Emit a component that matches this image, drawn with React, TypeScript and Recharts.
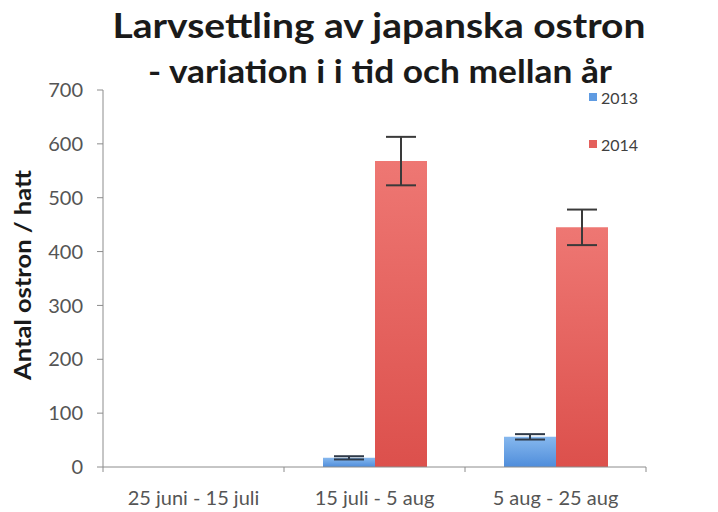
import React from 'react';
import { BarChart, Bar, XAxis, YAxis, ErrorBar } from 'recharts';

const periods = ['25 juni - 15 juli', '15 juli - 5 aug', '5 aug - 25 aug'];
const values2013 = [0, 17, 56];
const errors2013 = [null, 3, 5];
const values2014 = [0, 568, 445];
const errors2014 = [null, 45, 33];
const yTicks = [0, 100, 200, 300, 400, 500, 600, 700];
const legendItems = [
    { name: '2013', color: '#5f9be2' },
    { name: '2014', color: '#e4605c' },
];

const data = periods.map((p, i) => ({
    period: p,
    y2013: values2013[i],
    e2013: errors2013[i],
    y2014: values2014[i],
    e2014: errors2014[i],
}));

const FONT = 'Lato, "Open Sans", sans-serif';
const AXIS = '#8c8c8c';
const TICK_TEXT = '#555555';
const PLOT_BOTTOM = 467;
const HALF_BAND = 90.5;

const XTick = (props: any) => {
    const { x, payload, index } = props;
    return (
        <g>
            <line x1={x - HALF_BAND} x2={x - HALF_BAND} y1={PLOT_BOTTOM} y2={PLOT_BOTTOM + 5} stroke={AXIS} />
            {index === periods.length - 1 && (
                <line x1={x + HALF_BAND} x2={x + HALF_BAND} y1={PLOT_BOTTOM} y2={PLOT_BOTTOM + 5} stroke={AXIS} />
            )}
            <text x={x} y={PLOT_BOTTOM + 38} textAnchor="middle" fontSize={20} fill={TICK_TEXT} fontFamily={FONT}>
                {payload.value}
            </text>
        </g>
    );
};

const YLabel = () => (
    <text
        x={0}
        y={0}
        transform="translate(31 275) rotate(-90)"
        textAnchor="middle"
        fontSize={23}
        fontWeight={700}
        fill="#1a1a1a"
        fontFamily={FONT}
        textLength={210}
        lengthAdjust="spacingAndGlyphs"
    >
        Antal ostron / hatt
    </text>
);

export default function App() {
    return (
        <div style={{ position: 'absolute', left: 0, top: 0, width: 718, height: 512, background: '#fff' }}>
            <BarChart
                width={718}
                height={512}
                data={data}
                margin={{ top: 90, right: 72, bottom: 15, left: 43 }}
                barGap={0}
                barSize={52}
            >
                <defs>
                    <linearGradient id="g2013" x1="0" y1="0" x2="0" y2="1">
                        <stop offset="0%" stopColor="#86b8ee" />
                        <stop offset="100%" stopColor="#4f8ddb" />
                    </linearGradient>
                    <linearGradient id="g2014" x1="0" y1="0" x2="0" y2="1">
                        <stop offset="0%" stopColor="#ee7773" />
                        <stop offset="100%" stopColor="#dc504c" />
                    </linearGradient>
                </defs>
                <XAxis
                    dataKey="period"
                    stroke={AXIS}
                    tickLine={false}
                    tick={<XTick />}
                    height={30}
                    interval={0}
                />
                <YAxis
                    domain={[0, 700]}
                    ticks={yTicks}
                    stroke={AXIS}
                    width={60}
                    tickSize={6}
                    tickMargin={14}
                    tick={{ fontSize: 20, fill: TICK_TEXT, fontFamily: FONT }}
                    label={<YLabel />}
                />
                <Bar dataKey="y2013" name="2013" fill="url(#g2013)" isAnimationActive={false}>
                    <ErrorBar dataKey="e2013" width={15} stroke="#2f3a48" strokeWidth={2} />
                </Bar>
                <Bar dataKey="y2014" name="2014" fill="url(#g2014)" isAnimationActive={false}>
                    <ErrorBar dataKey="e2014" width={15} stroke="#3a3a3a" strokeWidth={2} />
                </Bar>
            </BarChart>
            <div style={{ position: 'absolute', left: 589, top: 87, fontFamily: FONT, fontSize: 16, color: '#404040' }}>
                {legendItems.map((item, i) => (
                    <div key={item.name} style={{ display: 'flex', alignItems: 'center', height: 20, marginBottom: i === 0 ? 27 : 0 }}>
                        <div style={{ width: 8, height: 8, background: item.color, marginRight: 4 }} />
                        <span>{item.name}</span>
                    </div>
                ))}
            </div>
            <svg width={718} height={100} style={{ position: 'absolute', left: 0, top: 0, pointerEvents: 'none' }}>
                <text x={379} y={38} textAnchor="middle" fontSize={35} fontWeight={700} fill="#1a1a1a" fontFamily={FONT}
                    textLength={533} lengthAdjust="spacingAndGlyphs">
                    Larvsettling av japanska ostron
                </text>
                <text x={380} y={83} textAnchor="middle" fontSize={32} fontWeight={700} fill="#1a1a1a" fontFamily={FONT}
                    textLength={464} lengthAdjust="spacingAndGlyphs">
                    - variation i i tid och mellan år
                </text>
            </svg>
        </div>
    );
}
